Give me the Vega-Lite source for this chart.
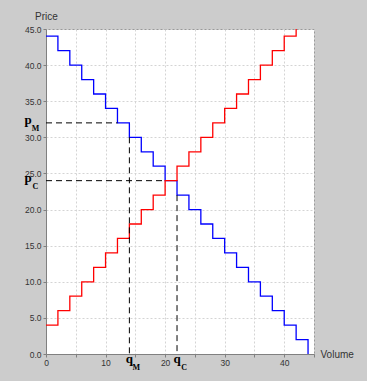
{
  "$schema": "https://vega.github.io/schema/vega-lite/v6.json",
  "width": 268,
  "height": 325,
  "autosize": {"type": "none"},
  "padding": {"left": 46, "top": 29, "right": 53, "bottom": 27},
  "background": "#cccccc",
  "config": {
    "view": {"fill": "white", "stroke": "#999999", "strokeWidth": 1},
    "font": "Liberation Sans",
    "axis": {
      "labelFont": "Liberation Sans",
      "labelFontSize": 8.5,
      "labelColor": "#333333",
      "labelOverlap": false,
      "labelFlush": false,
      "titleFont": "Liberation Sans",
      "titleFontSize": 10,
      "titleFontWeight": "normal",
      "titleColor": "#333333",
      "domainColor": "#808080",
      "tickColor": "#808080",
      "tickSize": 3,
      "gridColor": "#d4d4d4",
      "gridDash": [2, 2],
      "gridWidth": 1
    },
    "axisY": {"labelOverlap": false, "labelFlush": false},
    "axisQuantitative": {"labelOverlap": false, "labelFlush": false}
  },
  "datasets": {
    "demand": [
      {"q": 0, "p": 44}, {"q": 2, "p": 42}, {"q": 4, "p": 40}, {"q": 6, "p": 38},
      {"q": 8, "p": 36}, {"q": 10, "p": 34}, {"q": 12, "p": 32}, {"q": 14, "p": 30},
      {"q": 16, "p": 28}, {"q": 18, "p": 26}, {"q": 20, "p": 24}, {"q": 22, "p": 22},
      {"q": 24, "p": 20}, {"q": 26, "p": 18}, {"q": 28, "p": 16}, {"q": 30, "p": 14},
      {"q": 32, "p": 12}, {"q": 34, "p": 10}, {"q": 36, "p": 8}, {"q": 38, "p": 6},
      {"q": 40, "p": 4}, {"q": 42, "p": 2}, {"q": 44, "p": 0}
    ],
    "supply": [
      {"q": 0, "p": 4}, {"q": 2, "p": 6}, {"q": 4, "p": 8}, {"q": 6, "p": 10},
      {"q": 8, "p": 12}, {"q": 10, "p": 14}, {"q": 12, "p": 16}, {"q": 14, "p": 18},
      {"q": 16, "p": 20}, {"q": 18, "p": 22}, {"q": 20, "p": 24}, {"q": 22, "p": 26},
      {"q": 24, "p": 28}, {"q": 26, "p": 30}, {"q": 28, "p": 32}, {"q": 30, "p": 34},
      {"q": 32, "p": 36}, {"q": 34, "p": 38}, {"q": 36, "p": 40}, {"q": 38, "p": 42},
      {"q": 40, "p": 44}, {"q": 42, "p": 46}
    ],
    "guides": [
      {"q": 0, "q2": 12, "p": 32, "p2": 32},
      {"q": 14, "q2": 14, "p": 30, "p2": 0},
      {"q": 0, "q2": 20, "p": 24, "p2": 24},
      {"q": 22, "q2": 22, "p": 22, "p2": 0}
    ],
    "plabels": [
      {"main": "p", "sub": "M", "q": 0, "p": 32},
      {"main": "p", "sub": "C", "q": 0, "p": 24}
    ],
    "qlabels": [
      {"main": "q", "sub": "M", "q": 14, "p": 0},
      {"main": "q", "sub": "C", "q": 22, "p": 0}
    ]
  },
  "encoding": {
    "x": {
      "field": "q", "type": "quantitative",
      "scale": {"domain": [0, 45], "nice": false, "zero": false},
      "axis": {
        "values": [0, 5, 10, 15, 20, 25, 30, 35, 40, 45],
        "labelExpr": "datum.value % 10 === 0 ? datum.label : ''",
        "labelOverlap": false,
        "labelFlush": false,
        "labelPadding": 1,
        "title": "Volume",
        "titleAlign": "left",
        "titleBaseline": "alphabetic",
        "titleX": 274,
        "titleY": 3,
        "grid": true
      }
    },
    "y": {
      "field": "p", "type": "quantitative",
      "scale": {"domain": [0, 45], "nice": false, "zero": false},
      "axis": {
        "values": [0, 5, 10, 15, 20, 25, 30, 35, 40, 45],
        "format": ".1f",
        "labelOverlap": false,
        "labelFlush": false,
        "labelPadding": 2,
        "title": "Price",
        "titleAngle": 0,
        "titleAlign": "center",
        "titleBaseline": "alphabetic",
        "titleX": 0,
        "titleY": -10,
        "grid": true
      }
    }
  },
  "layer": [
    {
      "data": {"name": "demand"},
      "mark": {"type": "line", "interpolate": "step-after", "color": "#0000ff", "strokeWidth": 1.3, "clip": true}
    },
    {
      "data": {"name": "supply"},
      "mark": {"type": "line", "interpolate": "step-after", "color": "#ff0000", "strokeWidth": 1.3, "clip": true}
    },
    {
      "data": {"name": "guides"},
      "mark": {"type": "rule", "color": "black", "strokeWidth": 1, "strokeDash": [6, 4]},
      "encoding": {
        "x2": {"field": "q2"},
        "y2": {"field": "p2"}
      }
    },
    {
      "data": {"name": "plabels"},
      "mark": {"type": "text", "font": "Liberation Serif", "fontWeight": "bold", "fontSize": 13, "align": "center", "baseline": "alphabetic", "dx": -18, "dy": 1, "color": "black", "clip": false},
      "encoding": {"text": {"field": "main"}}
    },
    {
      "data": {"name": "plabels"},
      "mark": {"type": "text", "font": "Liberation Serif", "fontWeight": "bold", "fontSize": 8, "align": "center", "baseline": "alphabetic", "dx": -10.5, "dy": 8, "color": "black", "clip": false},
      "encoding": {"text": {"field": "sub"}}
    },
    {
      "data": {"name": "qlabels"},
      "mark": {"type": "text", "font": "Liberation Serif", "fontWeight": "bold", "fontSize": 13, "align": "center", "baseline": "alphabetic", "dx": 0, "dy": 8.5, "color": "black", "clip": false},
      "encoding": {"text": {"field": "main"}}
    },
    {
      "data": {"name": "qlabels"},
      "mark": {"type": "text", "font": "Liberation Serif", "fontWeight": "bold", "fontSize": 8, "align": "center", "baseline": "alphabetic", "dx": 7, "dy": 16, "color": "black", "clip": false},
      "encoding": {"text": {"field": "sub"}}
    }
  ]
}
